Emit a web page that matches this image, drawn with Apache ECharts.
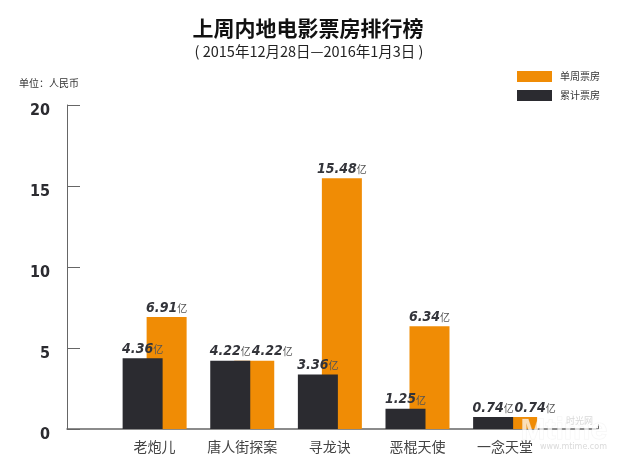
<!DOCTYPE html>
<html>
<head>
<meta charset="utf-8">
<style>
html, body { margin: 0; padding: 0; background: #fff; }
#main { width: 620px; height: 472px; }
</style>
<script src="https://cdn.jsdelivr.net/npm/echarts@6/dist/echarts.min.js"></script>
</head>
<body>
<div id="main"></div>
<script>
const movies = ['老炮儿', '唐人街探案', '寻龙诀', '恶棍天使', '一念天堂']
const weekly = [6.91, 4.22, 15.48, 6.34, 0.74]
const total = [4.36, 4.22, 3.36, 1.25, 0.74]
const yTicks = [0, 5, 10, 15, 20]

const cjk = '"Noto Sans CJK SC"'
const numFont = '"DejaVu Sans Condensed", "Liberation Sans"'
const orange = '#f08c05'
const dark = '#2b2b30'

// 数值 + 小号的"亿"
const barLabel = {
    show: true,
    position: 'top',
    distance: 2,
    formatter: p => `{v|${p.value[1].toFixed(2)}}{u|亿}`,
    rich: {
        v: { fontFamily: numFont, fontSize: 14, fontWeight: 'bold', fontStyle: 'italic', color: '#33343a' },
        u: { fontFamily: cjk, fontSize: 10, color: '#555' }
    }
}

const toPoints = arr => arr.map((v, i) => [i + 1, v])

const myChart = echarts.init(document.getElementById('main'))
myChart.setOption({
    backgroundColor: '#fff',
    animation: false,
    title: [
        { text: '上周内地电影票房排行榜', left: 303, top: 13, textAlign: 'center',
          textStyle: { fontFamily: cjk, fontSize: 21, fontWeight: 'bold', color: '#111' } },
        { text: '( 2015年12月28日—2016年1月3日 )', left: 304, top: 39, textAlign: 'center',
          textStyle: { fontFamily: cjk, fontSize: 14.5, fontWeight: 'normal', color: '#222' } },
        { text: '单位：人民币', left: 14, top: 73,
          textStyle: { fontFamily: cjk, fontSize: 10, fontWeight: 'normal', color: '#333' } }
    ],
    legend: {
        orient: 'vertical',
        left: 512,
        top: 66,
        itemWidth: 35,
        itemHeight: 11,
        itemGap: 8,
        icon: 'rect',
        data: ['单周票房', '累计票房'],
        textStyle: { fontFamily: cjk, fontSize: 10, color: '#333', padding: [0, 0, 0, 3] }
    },
    grid: { left: 67, right: 22, top: 105, bottom: 43 },
    xAxis: {
        type: 'value',
        min: 0,
        max: 6.06,
        splitLine: { show: false },
        axisLine: { show: true, lineStyle: { color: '#666', width: 1.5 } },
        axisTick: { show: true, inside: true, length: 5, customValues: [6.06], lineStyle: { color: '#666' } },
        axisLabel: {
            customValues: movies.map((m, i) => i + 1),
            formatter: v => movies[v - 1],
            margin: 11,
            fontFamily: cjk,
            fontSize: 14,
            color: '#444'
        }
    },
    yAxis: {
        type: 'value',
        min: yTicks[0],
        max: yTicks[yTicks.length - 1],
        interval: 5,
        splitLine: { show: false },
        axisLine: { show: true, lineStyle: { color: '#666', width: 1 } },
        axisTick: { show: true, inside: true, length: 13, lineStyle: { color: '#666' } },
        axisLabel: {
            margin: 17,
            fontFamily: numFont,
            fontSize: 16,
            fontWeight: 'bold',
            color: '#2b2b30',
            verticalAlign: 'top',
            lineHeight: 11
        }
    },
    series: [
        {
            name: '累计票房',
            type: 'bar',
            barWidth: 40,
            barGap: '-40%',
            z: 3,
            itemStyle: { color: dark },
            label: barLabel,
            data: toPoints(total)
        },
        {
            name: '单周票房',
            type: 'bar',
            barWidth: 40,
            z: 2,
            itemStyle: { color: orange },
            label: barLabel,
            // 和累计票房相同的两根，标签挪到右边避免重叠
            data: toPoints(weekly).map((p, i) => weekly[i] === total[i]
                ? { value: p, label: { offset: [18, 0] } }
                : { value: p })
        }
    ],
    graphic: [
        { type: 'text', left: 520, top: 415, z: 10, silent: true,
          style: { text: 'Mtime', fontFamily: '"Liberation Sans"', fontSize: 30, fontWeight: 'bold', fill: 'rgba(255,255,255,0.72)', stroke: 'rgba(210,210,210,0.25)', lineWidth: 1 } },
        { type: 'text', left: 566, top: 416, z: 10, silent: true,
          style: { text: '时光网', fontFamily: cjk, fontSize: 9, fill: 'rgba(200,200,200,0.7)' } },
        { type: 'text', left: 540, top: 443, z: 10, silent: true,
          style: { text: 'www.mtime.com', fontFamily: '"DejaVu Sans"', fontSize: 8, fill: 'rgba(205,205,205,0.75)' } }
    ]
})
</script>
</body>
</html>
